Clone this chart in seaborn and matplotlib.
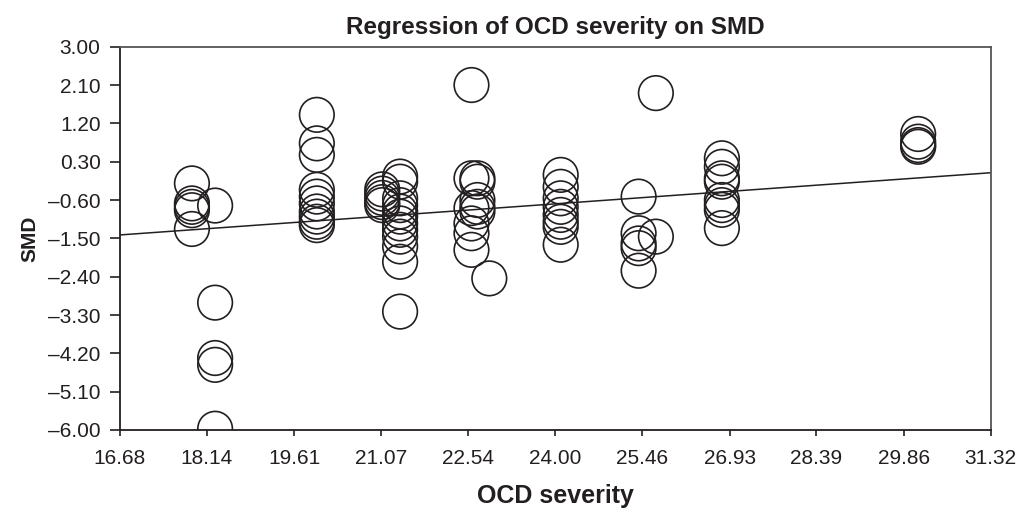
import numpy as np
import pandas as pd
import matplotlib
matplotlib.use("Agg")
import matplotlib.pyplot as plt
import seaborn as sns

# 데이터
ocd_x = [17.89, 17.89, 17.89, 17.89, 17.89, 18.28, 18.28, 18.28, 18.28, 18.28,
         19.99, 19.99, 19.99, 19.99, 19.99, 19.99, 19.99, 19.99, 19.99, 19.99,
         21.09, 21.09, 21.09, 21.09, 21.09,
         21.39, 21.39, 21.39, 21.39, 21.39, 21.39, 21.39, 21.39, 21.39, 21.39, 21.39, 21.39,
         22.59, 22.59, 22.59, 22.59, 22.59, 22.59,
         22.69, 22.69, 22.69, 22.69, 22.69, 22.89,
         24.09, 24.09, 24.09, 24.09, 24.09, 24.09, 24.09, 24.09,
         25.40, 25.40, 25.40, 25.40, 25.40, 25.69, 25.69,
         26.80, 26.80, 26.80, 26.80, 26.80, 26.80, 26.80, 26.80,
         30.10, 30.10, 30.10, 30.10]
smd_y = [-0.21, -0.68, -0.76, -0.84, -1.28, -0.73, -3.01, -4.31, -4.47, -5.97,
         1.40, 0.73, 0.46, -0.36, -0.52, -0.68, -0.87, -0.99, -1.11, -1.19,
         -0.35, -0.45, -0.55, -0.65, -0.72,
         -0.05, -0.17, -0.56, -0.72, -0.87, -0.99, -1.15, -1.30, -1.46, -1.69, -2.05, -3.22,
         2.10, -0.09, -0.79, -1.15, -1.38, -1.77,
         -0.09, -0.17, -0.60, -0.76, -0.87, -2.44,
         -0.01, -0.29, -0.56, -0.76, -0.95, -1.11, -1.23, -1.65,
         -0.52, -1.38, -1.62, -1.73, -2.26, 1.91, -1.46,
         0.38, 0.18, -0.09, -0.17, -0.60, -0.72, -0.83, -1.26,
         0.95, 0.77, 0.69, 0.65]

# 회귀선 (그림에서 읽은 양 끝 값)
line_x = [16.68, 31.32]
line_y = [-1.42, 0.04]

x_ticks = [16.68, 18.14, 19.61, 21.07, 22.54, 24.00, 25.46, 26.93, 28.39, 29.86, 31.32]
y_ticks = [3.00, 2.10, 1.20, 0.30, -0.60, -1.50, -2.40, -3.30, -4.20, -5.10, -6.00]

df = pd.DataFrame({"OCD severity": ocd_x, "SMD": smd_y})
df_line = pd.DataFrame({"x": line_x, "y": line_y})

sns.set_style("white")
plt.rcParams["font.family"] = ["Liberation Sans", "DejaVu Sans"]

fig = plt.figure(figsize=(10.2, 5.13), dpi=100)
ax = fig.add_axes([0.1176, 0.1618, 0.8537, 0.7472])

ink = "#231f20"
sns.scatterplot(data=df, x="OCD severity", y="SMD", ax=ax, s=620,
                facecolor="none", edgecolor=ink, linewidth=1.2, zorder=3)
sns.lineplot(data=df_line, x="x", y="y", ax=ax, color=ink, linewidth=1.1, zorder=2)

ax.set_xlim(16.68, 31.32)
ax.set_ylim(-6.0, 3.0)
ax.set_xticks(x_ticks)
ax.set_yticks(y_ticks)
ax.set_xticklabels([f"{v:.2f}" for v in x_ticks])
ax.set_yticklabels([f"{v:.2f}".replace("-", "\u2013") for v in y_ticks])

for lab in ax.get_xticklabels() + ax.get_yticklabels():
    lab.set_fontsize(15)
    lab.set_color(ink)

ax.tick_params(axis="x", direction="out", length=4.5, width=1.2, color=ink,
               bottom=True, top=False, pad=9)
ax.tick_params(axis="y", direction="out", length=7, width=1.2, color=ink,
               left=True, right=False, pad=7)

for side in ["left", "bottom"]:
    ax.spines[side].set_color(ink)
    ax.spines[side].set_linewidth(1.3)
for side in ["top", "right"]:
    ax.spines[side].set_color("#555555")
    ax.spines[side].set_linewidth(1.3)

ax.set_title("Regression of OCD severity on SMD", fontsize=17.5, fontweight="bold",
             color=ink, pad=9)
ax.set_xlabel("OCD severity", fontsize=18, fontweight="bold", color=ink, labelpad=12)
ax.set_ylabel("SMD", fontsize=15, fontweight="bold", color=ink, labelpad=6)

fig.savefig("out.png", dpi=100, facecolor="white")
